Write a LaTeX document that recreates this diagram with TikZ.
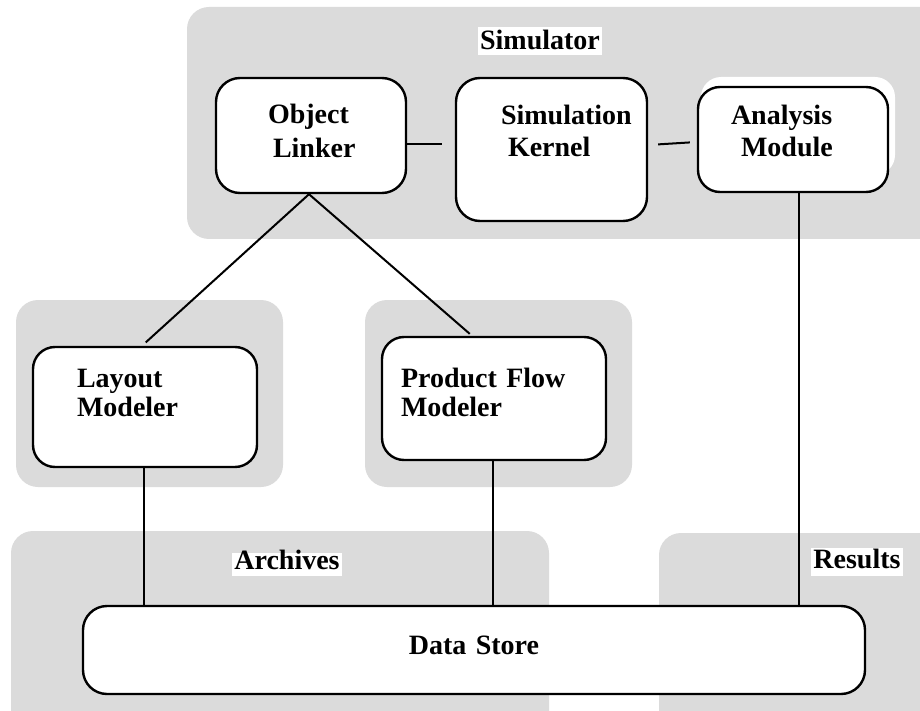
\documentclass[tikz,border=0pt]{standalone}
\usepackage{fontspec}
\setmainfont{Liberation Serif}
\begin{document}
\begin{tikzpicture}[x=1pt,y=-1pt]
\tikzset{
  zone/.style={fill=black!14, draw=none, rounded corners=22pt},
  module/.style={draw, line width=2.4pt, rounded corners=24pt, fill=white,
    inner xsep=0pt, inner ysep=0pt, align=left,
    font=\bfseries\fontsize{28}{29}\selectfont},
  link/.style={line width=2pt},
  tag/.style={fill=white, inner xsep=2pt, inner ysep=0pt,
    font=\bfseries\fontsize{28}{29}\selectfont},
}
\useasboundingbox (0,0) rectangle (920,711);
\clip (0,0) rectangle (920,711);

% shaded grouping areas
\fill[zone] (187,7) rectangle (950,239);
\fill[zone] (16,300) rectangle (283,487);
\fill[zone] (365,300) rectangle (632,487);
\fill[zone] (11,531) rectangle (549,740);
\fill[zone] (659,533) rectangle (950,740);

% white halo behind the analysis module
\fill[white, rounded corners=20pt] (701,77) rectangle (895,175);

% group titles
\node[tag, text height=23pt, text depth=5pt] (simlabel) at (540,41) {Simulator};
\node[tag, text height=16pt, text depth=7pt] (arclabel) at (287,564.5) {Archives};
\node[tag, text height=20pt, text depth=8pt] (reslabel) at (857,562) {Results};

% components
\node[module, text width=190pt, text height=46pt, text depth=69pt] (ol) at (311,135.5)
  {\hspace*{52pt}Object\\[5pt]\hspace*{57pt}Linker};
\node[module, text width=191pt, text height=47pt, text depth=96pt] (sk) at (551.5,149.5)
  {\hspace*{45pt}Simulation\\[3pt]\hspace*{52pt}Kernel};
\node[module, text width=190pt, text height=38pt, text depth=67pt, rounded corners=22pt] (am) at (793,139.5)
  {\hspace*{33pt}Analysis\\[3pt]\hspace*{43pt}Module};
\node[module, text width=224pt, text height=40pt, text depth=80pt, rounded corners=22pt] (lm) at (145,407)
  {\hspace*{44pt}Layout\\\hspace*{44pt}Modeler};
\node[module, text width=224pt, text height=50pt, text depth=73pt, rounded corners=22pt] (pfm) at (494,398.5)
  {\hspace*{19pt}Product Flow\\\hspace*{19pt}Modeler};
\node[module, text width=782pt, text height=48pt, text depth=40pt, align=center] (ds) at (474,650)
  {Data Store};

% connectors
\draw[link, shorten >=13pt] ([yshift=-8.5pt]ol.east) -- ([yshift=5.5pt]sk.west);
\draw[link, shorten <=10pt, shorten >=7pt] ([yshift=4.5pt]sk.east) -- ([yshift=-2.5pt]am.west);
\draw[link, shorten >=5pt] ([xshift=-2pt]ol.south) -- ([xshift=-3pt]lm.north);
\draw[link, shorten >=3pt] ([xshift=-2pt]ol.south) -- ([xshift=-22pt]pfm.north);
\draw[link] ([xshift=-1pt]lm.south) -- ([xshift=-1pt]lm.south |- ds.north);
\draw[link] ([xshift=-1pt]pfm.south) -- ([xshift=-1pt]pfm.south |- ds.north);
\draw[link] ([xshift=6pt]am.south) -- ([xshift=6pt]am.south |- ds.north);
\end{tikzpicture}
\end{document}
